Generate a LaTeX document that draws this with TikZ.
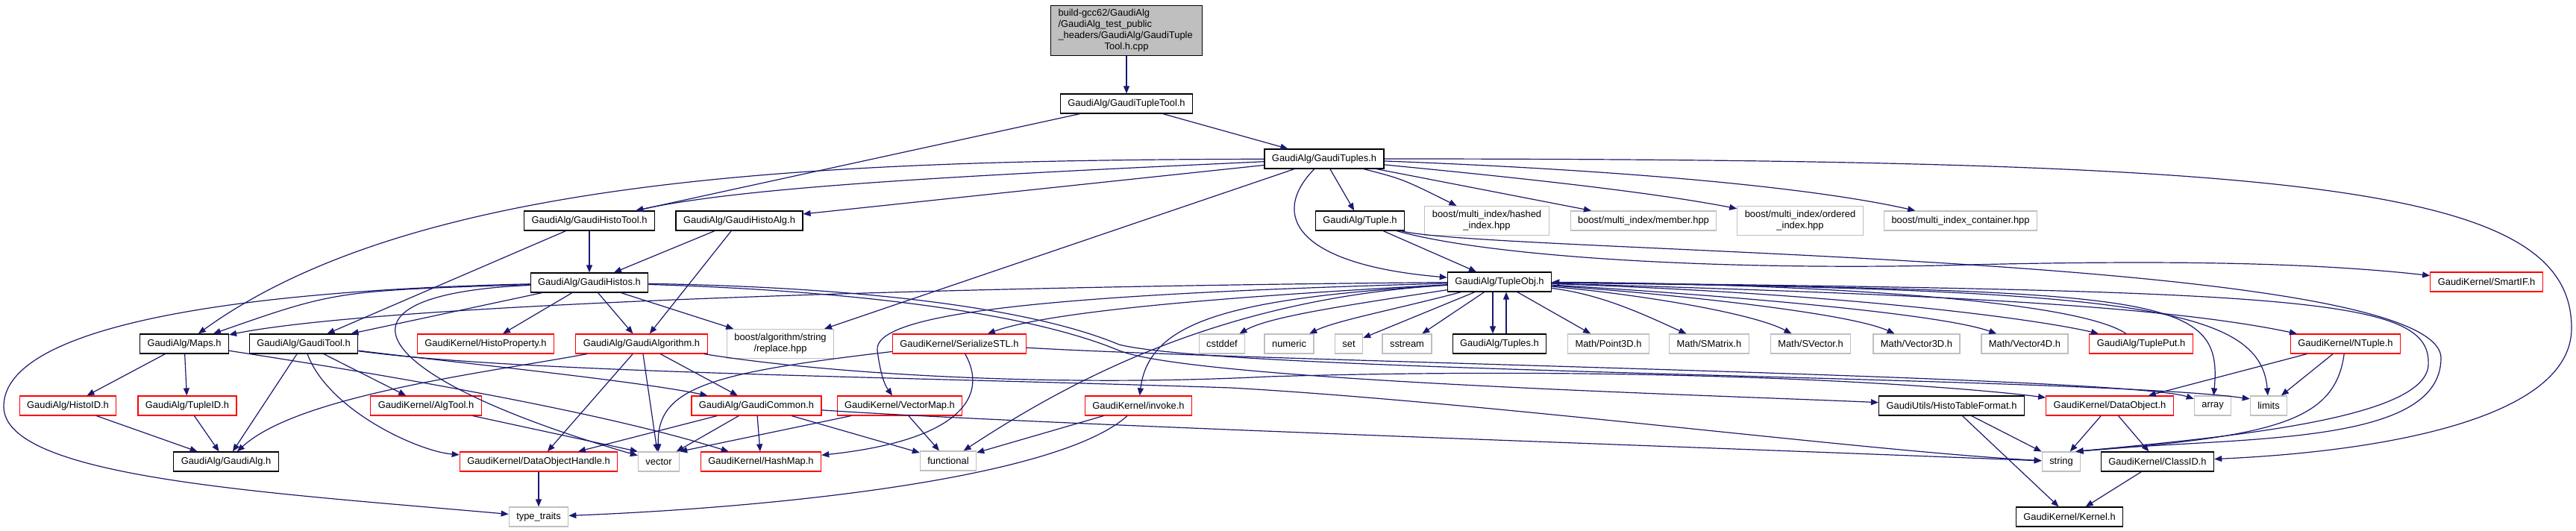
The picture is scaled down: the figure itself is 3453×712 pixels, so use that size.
\documentclass[tikz,border=0pt]{standalone}
\usepackage{fontspec}
\setmainfont{Liberation Sans}
\usetikzlibrary{arrows.meta}
\definecolor{edgeblue}{HTML}{191970}
\definecolor{sysgray}{HTML}{BFBFBF}
\definecolor{misred}{HTML}{FF0000}

\begin{document}
\begin{tikzpicture}[x=1pt,y=-1pt,
  every node/.style={draw,font=\fontsize{12.9}{15}\selectfont,inner xsep=10pt,inner ysep=6pt,minimum height=26pt,line width=1.2pt,align=center},
  hdr/.style={draw=black},
  redhdr/.style={draw=misred},
  sys/.style={draw=sysgray},
  inc/.style={draw=edgeblue,line width=1.2pt,-{Triangle[length=10pt,width=8pt]}}]
  \useasboundingbox (0,0) rectangle (3453,712);
  \path (1510,41) node[hdr,fill=sysgray,text width=183pt,align=left,inner ysep=5pt] (src) {build-gcc62/GaudiAlg\\/GaudiAlg\_test\_public\\\_headers/GaudiAlg/GaudiTuple\\\makebox[183pt]{Tool.h.cpp}};
  \path (1510,139) node[hdr] (tupletool) {GaudiAlg/GaudiTupleTool.h}
  (1775,213) node[hdr] (tuples) {GaudiAlg/GaudiTuples.h};
  \path (790,296) node[hdr] (histotool) {GaudiAlg/GaudiHistoTool.h}
  (991,296) node[hdr] (histoalg) {GaudiAlg/GaudiHistoAlg.h}
  (1823,296) node[hdr] (tuple) {GaudiAlg/Tuple.h}
  (1993,296) node[sys] (hashed) {boost/multi\_index/hashed\\\_index.hpp}
  (2203,296) node[sys] (member) {boost/multi\_index/member.hpp}
  (2413,296) node[sys] (ordered) {boost/multi\_index/ordered\\\_index.hpp}
  (2628,296) node[sys] (container) {boost/multi\_index\_container.hpp};
  \path (790,379) node[hdr] (histos) {GaudiAlg/GaudiHistos.h}
  (2010,378) node[hdr] (tupleobj) {GaudiAlg/TupleObj.h}
  (3333,378) node[redhdr] (smartif) {GaudiKernel/SmartIF.h};
  \path (247,461) node[hdr] (maps) {GaudiAlg/Maps.h}
  (407,461) node[hdr] (gauditool) {GaudiAlg/GaudiTool.h}
  (651,461) node[redhdr] (histoprop) {GaudiKernel/HistoProperty.h}
  (860,461) node[redhdr] (gaudialgorithm) {GaudiAlg/GaudiAlgorithm.h}
  (1046,461) node[sys] (replace) {boost/algorithm/string\\/replace.hpp}
  (1286,461) node[redhdr] (serialize) {GaudiKernel/SerializeSTL.h}
  (1638,461) node[sys] (cstddef) {cstddef}
  (1728,461) node[sys] (numeric) {numeric}
  (1808,461) node[sys] (set) {set}
  (1886,461) node[sys] (sstream) {sstream}
  (2010,461) node[hdr] (tuplesh) {GaudiAlg/Tuples.h}
  (2156,461) node[sys] (point3d) {Math/Point3D.h}
  (2291,461) node[sys] (smatrix) {Math/SMatrix.h}
  (2427,461) node[sys] (svector) {Math/SVector.h}
  (2569,461) node[sys] (vector3d) {Math/Vector3D.h}
  (2714,461) node[sys] (vector4d) {Math/Vector4D.h}
  (2870,461) node[redhdr] (tupleput) {GaudiAlg/TuplePut.h}
  (3144,461) node[redhdr] (ntuple) {GaudiKernel/NTuple.h};
  \path (91,544) node[redhdr] (histoid) {GaudiAlg/HistoID.h}
  (251,544) node[redhdr] (tupleid) {GaudiAlg/TupleID.h}
  (571,544) node[redhdr] (algtool) {GaudiKernel/AlgTool.h}
  (1014,544) node[redhdr] (gaudicommon) {GaudiAlg/GaudiCommon.h}
  (1206,544) node[redhdr] (vectormap) {GaudiKernel/VectorMap.h}
  (1526,544) node[redhdr] (invoke) {GaudiKernel/invoke.h}
  (2616,544) node[hdr] (histotable) {GaudiUtils/HistoTableFormat.h}
  (2828,544) node[redhdr] (dataobject) {GaudiKernel/DataObject.h}
  (2966,544) node[sys] (array) {array}
  (3041,544) node[sys] (limits) {limits};
  \path (303,619) node[hdr] (gaudialg) {GaudiAlg/GaudiAlg.h}
  (722,619) node[redhdr] (dohandle) {GaudiKernel/DataObjectHandle.h}
  (883,619) node[sys] (vector) {vector}
  (1020,619) node[redhdr] (hashmap) {GaudiKernel/HashMap.h}
  (1271,618) node[sys] (functional) {functional}
  (2763,619) node[sys] (string) {string}
  (2892,619) node[hdr] (classid) {GaudiKernel/ClassID.h};
  \path (722,693) node[sys] (typetraits) {type\_traits}
  (2774,693) node[hdr] (kernel) {GaudiKernel/Kernel.h};

  \draw[inc] (src) -- (tupletool);
  \draw[inc] (tupletool) -- (tuples);
  \draw[inc] (tupletool) -- (histotool);
  \draw[inc] (tuples) .. controls (1100,215) and (560,235) .. (maps);
  \draw[inc] (tuples) .. controls (1300,235) and (1000,250) .. (histotool);
  \draw[inc] (tuples) -- (histoalg);
  \draw[inc] (tuples) -- (tuple);
  \draw[inc] (tuples) .. controls (1700,290) and (1740,355) .. (tupleobj);
  \draw[inc] (tuples) .. controls (1880,240) .. (hashed);
  \draw[inc] (tuples) -- (member);
  \draw[inc] (tuples) .. controls (2000,235) and (2200,255) .. (ordered);
  \draw[inc] (tuples) .. controls (2100,225) and (2400,245) .. (container);
  \draw[inc] (tuples) -- (replace);
  \draw[inc] (tuples) .. controls (3100,213) and (3447,250) .. (3447,440) .. controls (3447,560) and (3200,605) .. (classid);
  \draw[inc] (histotool) -- (histos);
  \draw[inc] (histotool) -- (gauditool);
  \draw[inc] (histoalg) -- (histos);
  \draw[inc] (histoalg) -- (gaudialgorithm);

  \draw[inc] (histos) .. controls (450,390) .. (maps);
  \draw[inc] (histos) -- (gauditool);
  \draw[inc] (histos) .. controls (300,390) and (5,440) .. (5,545) .. controls (5,640) and (350,660) .. (typetraits);
  \draw[inc] (histos) .. controls (420,395) and (490,505) .. (vector);
  \draw[inc] (histos) -- (histoprop);
  \draw[inc] (histos) -- (gaudialgorithm);
  \draw[inc] (histos) -- (replace);
  \draw[inc] (histos) .. controls (1150,390) and (1380,420) .. (1500,470) .. controls (1600,510) and (2300,530) .. (histotable);
  \draw[inc] (histos) .. controls (1150,385) and (1380,412) .. (1500,462) .. controls (1650,500) and (2800,505) .. (limits.160);

  \draw[inc] (tuple) -- (tupleobj);
  \draw[inc] (tuple) .. controls (2000,345) and (2300,362) .. (2600,356) .. controls (2900,348) and (3100,352) .. (smartif);
  \draw[inc] (tuple) .. controls (2000,340) and (3270,340) .. (3272,480) .. controls (3272,600) and (3000,585) .. (string.35);

  \draw[inc] (tupleobj) .. controls (1200,385) and (500,410) .. (maps);
  \draw[inc] (tupleobj) .. controls (1600,400) and (1400,420) .. (serialize);
  \draw[inc] (tupleobj) .. controls (1400,395) and (1170,420) .. (1176,470) .. controls (1180,500) and (1185,515) .. (vectormap);
  \draw[inc] (tupleobj) .. controls (1650,400) and (1540,430) .. (invoke);
  \draw[inc] (tupleobj) .. controls (1650,400) and (1450,500) .. (functional);
  \draw[inc] (tupleobj) .. controls (1800,410) and (1700,425) .. (cstddef);
  \draw[inc] (tupleobj) .. controls (1870,415) and (1790,430) .. (numeric);
  \draw[inc] (tupleobj) -- (set);
  \draw[inc] (tupleobj) -- (sstream);
  \draw[inc] ([xshift=-9pt]tupleobj.south) -- ([xshift=-9pt]tuplesh.north);
  \draw[inc] ([xshift=9pt]tuplesh.north) -- ([xshift=9pt]tupleobj.south);
  \draw[inc] (tupleobj) -- (point3d);
  \draw[inc] (tupleobj) .. controls (2150,395) and (2210,425) .. (smatrix);
  \draw[inc] (tupleobj) .. controls (2200,395) and (2350,420) .. (svector);
  \draw[inc] (tupleobj) .. controls (2250,395) and (2480,420) .. (vector3d);
  \draw[inc] (tupleobj) .. controls (2300,395) and (2600,420) .. (vector4d);
  \draw[inc] (tupleobj) .. controls (2500,395) and (2740,430) .. (tupleput);
  \draw[inc] (tupleput) .. controls (2780,400) and (2400,380) .. (tupleobj);
  \draw[inc] (tupleobj) .. controls (2600,395) and (2900,410) .. (ntuple);
  \draw[inc] (tupleobj) .. controls (2900,390) and (2980,395) .. (array);
  \draw[inc] (tupleobj) .. controls (2850,388) and (3030,410) .. (limits);
  \draw[inc] (tupleobj) .. controls (3100,390) and (3260,400) .. (3255,490) .. controls (3250,560) and (3000,585) .. (string.35);

  \draw[inc] (maps) -- (histoid);
  \draw[inc] (maps) -- (tupleid);
  \draw[inc] (maps) .. controls (500,500) and (800,550) .. (hashmap);
  \draw[inc] (gauditool) -- (gaudialg);
  \draw[inc] (gauditool) -- (algtool);
  \draw[inc] (gauditool) .. controls (440,550) and (560,605) .. (dohandle);
  \draw[inc] (gauditool) .. controls (600,485) and (850,510) .. (gaudicommon);
  \draw[inc] (gauditool) .. controls (700,500) and (1200,505) .. (1650,520) .. controls (2000,540) and (2500,605) .. (string);
  \draw[inc] (gaudialgorithm) .. controls (650,500) and (400,530) .. (gaudialg);
  \draw[inc] (gaudialgorithm) -- (dohandle);
  \draw[inc] (gaudialgorithm) -- (vector);
  \draw[inc] (gaudialgorithm) -- (gaudicommon);
  \draw[inc] (gaudialgorithm) .. controls (1100,500) and (1400,520) .. (1700,505) .. controls (2200,490) and (2600,515) .. (dataobject);
  \draw[inc] (serialize) .. controls (950,500) and (880,520) .. (vector);
  \draw[inc] (serialize) .. controls (1325,530) and (1290,590) .. (hashmap);
  \draw[inc] (serialize) .. controls (1700,485) and (2850,505) .. (array.160);

  \draw[inc] (histoid) -- (gaudialg);
  \draw[inc] (tupleid) -- (gaudialg);
  \draw[inc] (algtool) -- (vector.north west);
  \draw[inc] (gaudicommon) -- (dohandle);
  \draw[inc] (gaudicommon) -- (vector);
  \draw[inc] (gaudicommon) -- (hashmap);
  \draw[inc] (gaudicommon) -- (functional);
  \draw[inc] (gaudicommon) .. controls (1400,570) and (2300,600) .. (string);
  \draw[inc] (vectormap) -- (vector.north east);
  \draw[inc] (vectormap) -- (functional);
  \draw[inc] (invoke) -- (functional);
  \draw[inc] (invoke) .. controls (1420,640) and (1050,680) .. (typetraits);
  \draw[inc] (dohandle) -- (typetraits);
  \draw[inc] (histotable) -- (string);
  \draw[inc] (histotable) -- (kernel);
  \draw[inc] (ntuple) -- (dataobject);
  \draw[inc] (ntuple) -- (limits);
  \draw[inc] (ntuple) .. controls (3130,565) and (3050,585) .. (string.35);
  \draw[inc] (dataobject) -- (string);
  \draw[inc] (dataobject) -- (classid);
  \draw[inc] (classid) -- (kernel);
\end{tikzpicture}
\end{document}
